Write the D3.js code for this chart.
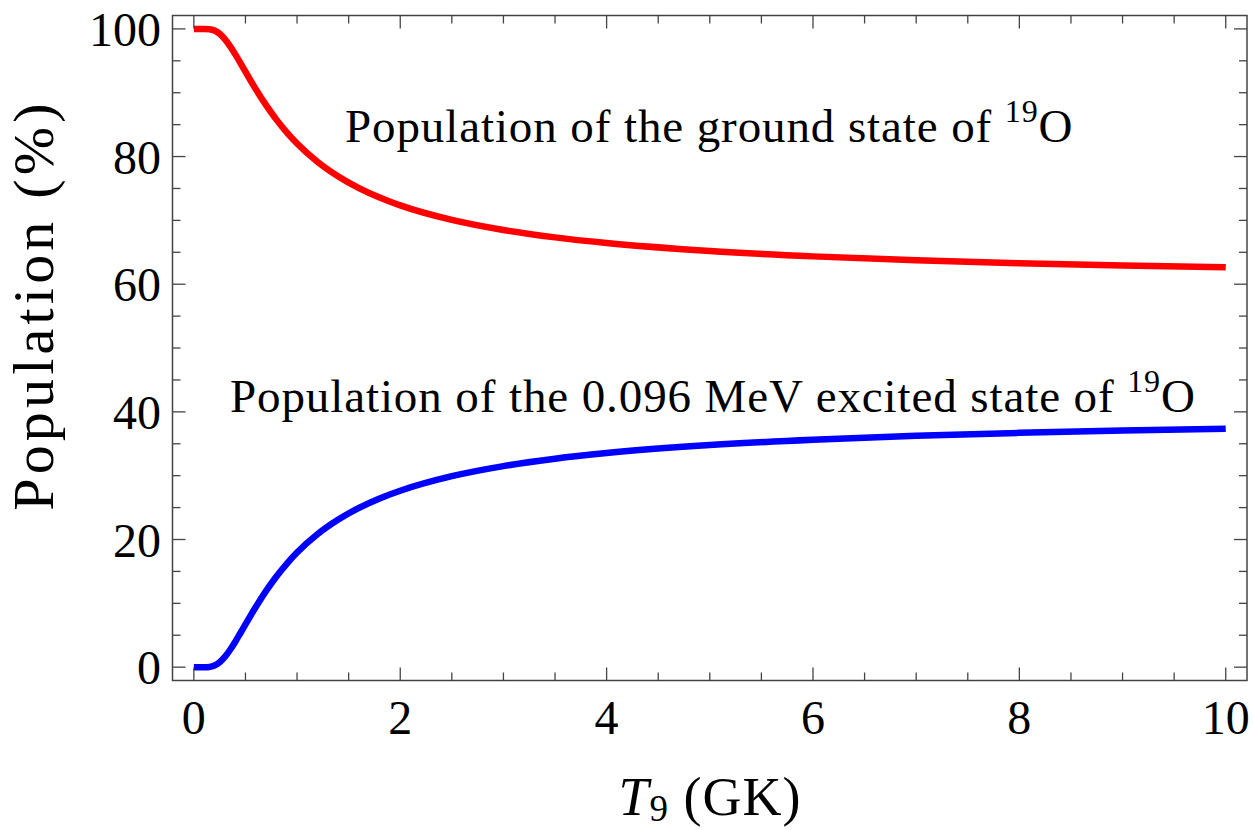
<!DOCTYPE html>
<html><head><meta charset="utf-8">
<script src="https://cdn.jsdelivr.net/npm/d3@7"></script>
<style>body{margin:0;background:#fff;} svg{display:block;}</style>
</head><body>
<svg id="c" width="1253" height="830"></svg>
<script>
const t9 = [0, 0.05, 0.1, 0.15, 0.2, 0.25, 0.3, 0.35, 0.4, 0.45, 0.5, 0.55, 0.6, 0.7, 0.8, 0.9, 1.0, 1.2, 1.4, 1.6, 1.8, 2.0, 2.5, 3.0, 3.5, 4.0, 5.0, 6.0, 7.0, 8.0, 9.0, 10.0];
const excited = [0, 0, 0.001, 0.04, 0.25, 0.77, 1.60, 2.69, 3.95, 5.31, 6.70, 8.09, 9.43, 11.95, 14.21, 16.20, 17.95, 20.85, 23.12, 24.94, 26.42, 27.64, 29.92, 31.50, 32.66, 33.54, 34.79, 35.64, 36.25, 36.71, 37.07, 37.36];
const ground = [100, 100, 99.999, 99.96, 99.75, 99.23, 98.40, 97.31, 96.05, 94.69, 93.30, 91.91, 90.57, 88.05, 85.79, 83.80, 82.05, 79.15, 76.88, 75.06, 73.58, 72.36, 70.08, 68.50, 67.34, 66.46, 65.21, 64.36, 63.75, 63.29, 62.93, 62.64];
const xTickValues = [0, 2, 4, 6, 8, 10];
const yTickValues = [0, 20, 40, 60, 80, 100];
const xMinorValues = d3.range(0, 10.01, 0.5);
const yMinorValues = d3.range(0, 100.1, 5);

const svg = d3.select("#c");
const L = 172.5, R = 1247, T = 15.5, B = 680.5;
const x = d3.scaleLinear().domain([-0.207, 10.206]).range([L, R]);
const y = d3.scaleLinear().domain([-2.09, 102.1]).range([B, T]);
const font = "'Liberation Serif','Times New Roman',serif";
const frameColor = "#444";

// curves
const line = d3.line().x((d, i) => x(t9[i])).y(d => y(d)).curve(d3.curveMonotoneX);
svg.append("path").attr("d", line(ground)).attr("fill", "none").attr("stroke", "#ff0000").attr("stroke-width", 6.5);
svg.append("path").attr("d", line(excited)).attr("fill", "none").attr("stroke", "#0000ff").attr("stroke-width", 6.5);

// frame
svg.append("rect").attr("x", L).attr("y", T).attr("width", R - L).attr("height", B - T)
  .attr("fill", "none").attr("stroke", frameColor).attr("stroke-width", 1.5);

const g = svg.append("g").attr("stroke", frameColor).attr("stroke-width", 1.3);
xMinorValues.forEach(v => {
  const major = Math.abs(v % 2) < 1e-9;
  const len = major ? 13 : 8;
  g.append("line").attr("x1", x(v)).attr("x2", x(v)).attr("y1", B).attr("y2", B - len);
  g.append("line").attr("x1", x(v)).attr("x2", x(v)).attr("y1", T).attr("y2", T + len);
});
yMinorValues.forEach(v => {
  const major = Math.abs(v % 20) < 1e-9;
  const len = major ? 13 : 8;
  g.append("line").attr("y1", y(v)).attr("y2", y(v)).attr("x1", L).attr("x2", L + len);
  g.append("line").attr("y1", y(v)).attr("y2", y(v)).attr("x1", R).attr("x2", R - len);
});

// tick labels
svg.selectAll(".xl").data(xTickValues).enter().append("text")
  .attr("x", d => x(d)).attr("y", 734).attr("text-anchor", "middle")
  .attr("font-family", font).attr("font-size", 48).attr("fill", "#000").text(d => d);
svg.selectAll(".yl").data(yTickValues).enter().append("text")
  .attr("x", 161).attr("y", d => y(d) + 17).attr("text-anchor", "end")
  .attr("font-family", font).attr("font-size", 48).attr("fill", "#000").text(d => d);

// axis titles
const xt = svg.append("text").attr("x", 710).attr("y", 815).attr("text-anchor", "middle")
  .attr("font-family", font).attr("font-size", 54).attr("letter-spacing", 1).attr("fill", "#000");
xt.append("tspan").attr("font-style", "italic").text("T");
xt.append("tspan").attr("font-size", 37).attr("dy", 6).text("9");
xt.append("tspan").attr("dy", -6).text(" (GK)");

svg.append("text").attr("transform", "translate(53,305) rotate(-90)").attr("text-anchor", "middle")
  .attr("font-family", font).attr("font-size", 58).attr("letter-spacing", 4.2).attr("fill", "#000").text("Population (%)");

// annotations
function label(tx, ty, str) {
  const t = svg.append("text").attr("x", tx).attr("y", ty)
    .attr("font-family", font).attr("font-size", 47).attr("letter-spacing", 0.9).attr("fill", "#000");
  t.append("tspan").text(str + " ");
  t.append("tspan").attr("font-size", 32).attr("dy", -20).text("19");
  t.append("tspan").attr("dy", 20).text("O");
}
label(345, 142, "Population of the ground state of");
label(230, 412, "Population of the 0.096 MeV excited state of");
</script>
</body></html>
